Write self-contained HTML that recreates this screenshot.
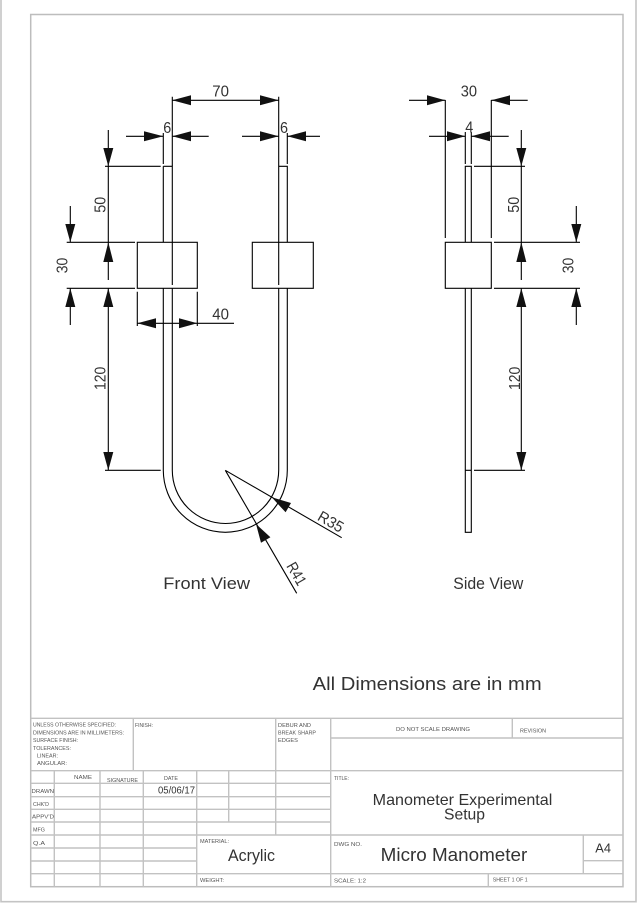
<!DOCTYPE html>
<html><head><meta charset="utf-8"><style>
html,body{margin:0;padding:0;background:#fff}
svg{display:block}
text{font-family:"Liberation Sans",sans-serif;fill:#333}
.t text{fill:#555;font-size:5.6px}
.b{fill:#111}
</style></head><body>
<svg width="638" height="903" viewBox="0 0 638 903" xmlns="http://www.w3.org/2000/svg">
<rect width="638" height="903" fill="#fff"/>
<!-- sheet frames -->
<path d="M1 0V901.7H636V0" fill="none" stroke="#c4c4c4" stroke-width="1.6"/>
<rect x="30.7" y="14.5" width="592.3" height="872.2" fill="none" stroke="#bdbdbd" stroke-width="1.5"/>
<!-- title block grid -->
<g stroke="#c2c2c2" stroke-width="1.4" fill="none">
<path d="M30.7 718.3H623M30.7 770.7H623M330.7 738H623M30.7 783.3H330.7M30.7 796.7H330.7M30.7 809.3H330.7M30.7 822H330.7M30.7 835H623M30.7 848H196.7M30.7 861H196.7M30.7 873.7H623M583.3 860.7H623"/>
<path d="M54.3 770.7V886.7M100 770.7V886.7M143.3 770.7V886.7M196.7 770.7V886.7M228.7 770.7V822M275.7 718.3V835M133.3 718.3V770.7M330.7 718.3V886.7M512.3 718.3V738M583.3 835V873.7M488.3 873.7V886.7"/>
</g>
<g class="t">
<text x="33" y="726.7" textLength="83" lengthAdjust="spacingAndGlyphs">UNLESS OTHERWISE SPECIFIED:</text>
<text x="33" y="734.5" textLength="91" lengthAdjust="spacingAndGlyphs">DIMENSIONS ARE IN MILLIMETERS:</text>
<text x="33" y="742" textLength="45" lengthAdjust="spacingAndGlyphs">SURFACE FINISH:</text>
<text x="33" y="750" textLength="38" lengthAdjust="spacingAndGlyphs">TOLERANCES:</text>
<text x="37" y="757.5" textLength="21" lengthAdjust="spacingAndGlyphs">LINEAR:</text>
<text x="37" y="765" textLength="30" lengthAdjust="spacingAndGlyphs">ANGULAR:</text>
<text x="135" y="727" textLength="18" lengthAdjust="spacingAndGlyphs">FINISH:</text>
<text x="278" y="727" textLength="33" lengthAdjust="spacingAndGlyphs">DEBUR AND</text>
<text x="278" y="734.5" textLength="38" lengthAdjust="spacingAndGlyphs">BREAK SHARP</text>
<text x="278" y="742" textLength="20" lengthAdjust="spacingAndGlyphs">EDGES</text>
<text x="396" y="731" textLength="74" lengthAdjust="spacingAndGlyphs">DO NOT SCALE DRAWING</text>
<text x="520" y="732.5" textLength="26" lengthAdjust="spacingAndGlyphs">REVISION</text>
<text x="334" y="780" textLength="15" lengthAdjust="spacingAndGlyphs">TITLE:</text>
<text x="74" y="779" textLength="18" lengthAdjust="spacingAndGlyphs">NAME</text>
<text x="107" y="782" textLength="31" lengthAdjust="spacingAndGlyphs">SIGNATURE</text>
<text x="164" y="780" textLength="14" lengthAdjust="spacingAndGlyphs">DATE</text>
<text x="31.5" y="793" textLength="22.5" lengthAdjust="spacingAndGlyphs">DRAWN</text>
<text x="33" y="806" textLength="16" lengthAdjust="spacingAndGlyphs">CHK'D</text>
<text x="32" y="818.5" textLength="22" lengthAdjust="spacingAndGlyphs">APPV'D</text>
<text x="33" y="831.5" textLength="12" lengthAdjust="spacingAndGlyphs">MFG</text>
<text x="33" y="845" textLength="12" lengthAdjust="spacingAndGlyphs">Q.A</text>
<text x="200" y="843" textLength="29" lengthAdjust="spacingAndGlyphs">MATERIAL:</text>
<text x="200" y="882" textLength="24" lengthAdjust="spacingAndGlyphs">WEIGHT:</text>
<text x="334" y="846" textLength="28" lengthAdjust="spacingAndGlyphs">DWG NO.</text>
<text x="334" y="882.5" textLength="32" lengthAdjust="spacingAndGlyphs">SCALE: 1:2</text>
<text x="492.7" y="881.5" textLength="35" lengthAdjust="spacingAndGlyphs">SHEET 1 OF 1</text>
</g>
<text x="158" y="793.3" font-size="10" textLength="37" lengthAdjust="spacingAndGlyphs">05/06/17</text>
<text x="228" y="861" font-size="17" textLength="47" lengthAdjust="spacingAndGlyphs">Acrylic</text>
<text x="372.7" y="805" font-size="16" textLength="179.6" lengthAdjust="spacingAndGlyphs">Manometer Experimental</text>
<text x="444" y="819.5" font-size="16" textLength="41" lengthAdjust="spacingAndGlyphs">Setup</text>
<text x="380.7" y="861" font-size="18.5" textLength="146.6" lengthAdjust="spacingAndGlyphs">Micro Manometer</text>
<text x="595.3" y="852.3" font-size="12.5" textLength="15.7" lengthAdjust="spacingAndGlyphs">A4</text>
<!-- drawing lines -->
<g stroke="#000" stroke-width="1.1" fill="none">
<!-- front view bodies -->
<rect x="137.3" y="242.3" width="60" height="46"/>
<rect x="252.3" y="242.3" width="61" height="46"/>
<path d="M163.3 166.3H172.3V285M278.7 96.7V285M278.7 166.3H287.3V242.3M163.3 166.3V242.3"/>
<path d="M163.3 288.3V470.3A62 62 0 0 0 287.3 470.3V288.3"/>
<path d="M172.3 288.3V470.3A53 53 0 0 0 278.7 470.3V288.3"/>
<!-- extension -->
<path d="M172.3 96.7V166M163.3 133V164M287.3 133V164"/>
<path d="M105 166.3H160.7M66.7 242.3H135M66.7 288.3H135M105 470.3H160.7"/>
<path d="M137.3 291.7V326M197.3 291.7V326"/>
<!-- dims -->
<path d="M172.3 100.3H278.7"/>
<path d="M126 136.3H163.3M172.3 136.3H208.7M242 136.3H278.7M287.3 136.3H320"/>
<path d="M108.3 130V280M108.3 288.3V470.3M70.3 206V242.3M70.3 288.3V325"/>
<path d="M137.3 323.3H234"/>
<path d="M225.3 470.3L341.7 537.7M225.3 470.3L296.7 593.3"/>
<!-- side view -->
<rect x="445.3" y="242.3" width="46" height="46"/>
<path d="M465.3 242.3V166.3H471.3V242.3M465.3 288.3V532.3H471.3V288.3M465.3 470.3H471.3"/>
<path d="M445.3 100V238M491.3 100V238M465.3 132V164M471.3 132V164"/>
<path d="M474 166.3H525M494 242.3H580M494 288.3H580M474 470.3H525"/>
<path d="M409 100.3H445.3M491.3 100.3H527.7M429 136.3H465.3M471.3 136.3H508.7"/>
<path d="M521.3 130V280M521.3 288.3V470.3M576.3 206V242.3M576.3 288.3V325"/>
</g>
<!-- arrowheads -->
<g class="b">
<path d="M172.3 100.3L191 95.3V105.3ZM278.7 100.3L260 95.3V105.3Z"/>
<path d="M163.3 136.3L144 131.3V141.3ZM172.3 136.3L191 131.3V141.3ZM278.7 136.3L260 131.3V141.3ZM287.3 136.3L306 131.3V141.3Z"/>
<path d="M108.3 166.3L103.3 148H113.3ZM108.3 242.3L103.3 262H113.3ZM108.3 288.3L103.3 307H113.3ZM108.3 470.3L103.3 452H113.3Z"/>
<path d="M70.3 242.3L65.3 224H75.3ZM70.3 288.3L65.3 307H75.3Z"/>
<path d="M137.3 323.3L156 318.3V328.3ZM197.3 323.3L179 318.3V328.3Z"/>
<path d="M271.7 497.3L291 503L285.6 512.3Z"/>
<path d="M256 524L270.4 537.3L261 542.7Z"/>
<path d="M445.3 100.3L427 95.3V105.3ZM491.3 100.3L510 95.3V105.3ZM465.3 136.3L447 131.3V141.3ZM471.3 136.3L490 131.3V141.3Z"/>
<path d="M521.3 166.3L516.3 148H526.3ZM521.3 242.3L516.3 262H526.3ZM521.3 288.3L516.3 307H526.3ZM521.3 470.3L516.3 452H526.3Z"/>
<path d="M576.3 242.3L571.3 224H581.3ZM576.3 288.3L571.3 307H581.3Z"/>
</g>
<!-- dimension labels -->
<g font-size="15.5">
<text x="212.3" y="96.7" textLength="16.7" lengthAdjust="spacingAndGlyphs">70</text>
<text x="163.3" y="133" textLength="8" lengthAdjust="spacingAndGlyphs">6</text>
<text x="280" y="133" textLength="8" lengthAdjust="spacingAndGlyphs">6</text>
<text x="212.3" y="319.3" textLength="16.7" lengthAdjust="spacingAndGlyphs">40</text>
<text transform="translate(105.7 212.7) rotate(-90)" textLength="16" lengthAdjust="spacingAndGlyphs">50</text>
<text transform="translate(67.3 273.3) rotate(-90)" textLength="15.5" lengthAdjust="spacingAndGlyphs">30</text>
<text transform="translate(105.7 390) rotate(-90)" textLength="23.3" lengthAdjust="spacingAndGlyphs">120</text>
<text x="460.7" y="96.7" textLength="16.3" lengthAdjust="spacingAndGlyphs">30</text>
<text x="465.3" y="132.5" textLength="8" lengthAdjust="spacingAndGlyphs">4</text>
<text transform="translate(519 212.7) rotate(-90)" textLength="16" lengthAdjust="spacingAndGlyphs">50</text>
<text transform="translate(573.7 273.3) rotate(-90)" textLength="15.5" lengthAdjust="spacingAndGlyphs">30</text>
<text transform="translate(520 390) rotate(-90)" textLength="23.3" lengthAdjust="spacingAndGlyphs">120</text>
<text transform="translate(316.5 519.5) rotate(30)" textLength="27" lengthAdjust="spacingAndGlyphs">R35</text>
<text transform="translate(286 566) rotate(60)" textLength="24" lengthAdjust="spacingAndGlyphs">R41</text>
</g>
<text x="163.3" y="589" font-size="17" textLength="86.7" lengthAdjust="spacingAndGlyphs">Front View</text>
<text x="453.3" y="589" font-size="17" textLength="70" lengthAdjust="spacingAndGlyphs">Side View</text>
<text x="312.7" y="690" font-size="18.5" textLength="229" lengthAdjust="spacingAndGlyphs">All Dimensions are in mm</text>
</svg>
</body></html>
